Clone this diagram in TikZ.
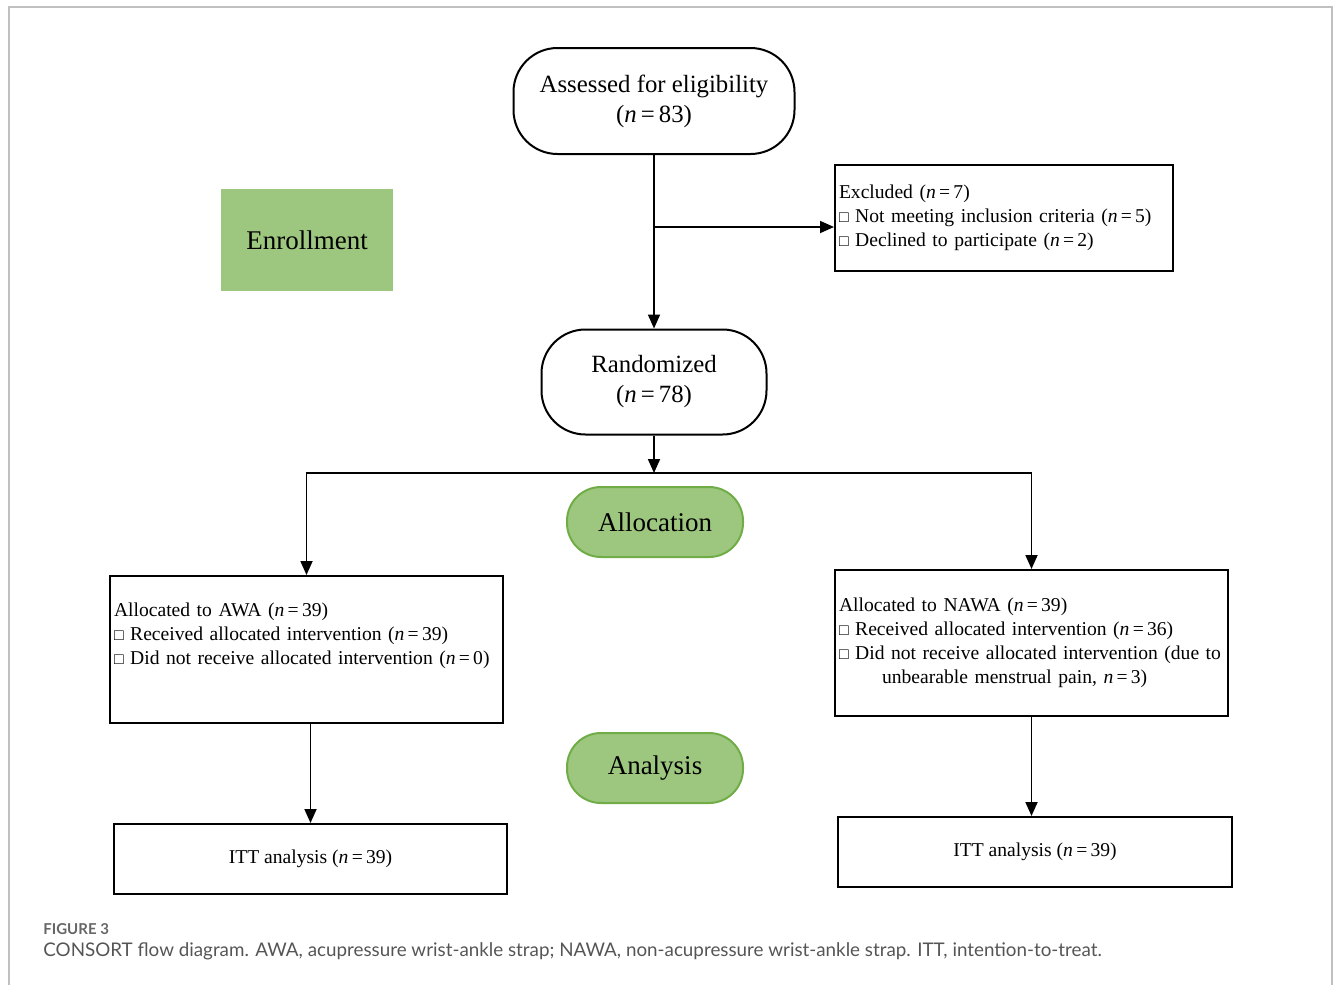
\documentclass[tikz,border=0pt]{standalone}
\usepackage{fontspec}
\setmainfont{Liberation Serif}
\newfontfamily\capfont{Lato}
\usetikzlibrary{arrows.meta}
\definecolor{phasefill}{RGB}{157,199,127}
\definecolor{phasedraw}{RGB}{112,173,71}
\definecolor{framegray}{RGB}{192,192,192}
\definecolor{captext}{RGB}{85,85,85}
\newcommand{\nis}[1]{(\textit{n}\,=\,#1)}
\newcommand{\tick}{{\footnotesize □}}
\begin{document}
\begin{tikzpicture}[
        x=0.5pt, y=-0.5pt, >={Triangle[length=7pt,width=6pt]},
        flow/.style={draw, line width=1pt, rounded corners=22pt, align=center, font=\fontsize{12.4}{15}\selectfont},
        info/.style={draw, line width=1pt, align=left, inner xsep=2pt, font=\fontsize{9.8}{12}\selectfont},
        phase/.style={fill=phasefill, align=center, font=\fontsize{13.5}{16}\selectfont},
        arr/.style={->, line width=0.9pt}
    ]
        \useasboundingbox (0,0) rectangle (1333,985);
        \draw[framegray, line width=1pt] (9,985) -- (9,7) -- (1332,7) -- (1332,985);
        \node[flow, minimum width=140.5pt, minimum height=53pt] (assess) at (654,101) {Assessed for eligibility\\\nis{83}};
        \node[phase, minimum width=86pt, minimum height=51pt] (enrol) at (307,240) {Enrollment};
        \node[info, minimum width=169pt, minimum height=53pt, text width=165pt] (excl) at (1004,218) {Excluded \nis{7}\\
            \tick{} Not meeting inclusion criteria \nis{5}\\
            \tick{} Declined to participate \nis{2}};
        \coordinate (split) at (654,227);
        \node[flow, minimum width=112.5pt, minimum height=52.5pt] (rand) at (654,382) {Randomized\\\nis{78}};
        \coordinate (fork) at (654,473);
        \node[phase, draw=phasedraw, line width=1pt, rounded corners=17pt, minimum width=88pt, minimum height=35pt] (alloc) at (655,522) {Allocation};
        \node[info, minimum width=196.5pt, minimum height=73.5pt, text width=192.5pt] (awa) at (306.5,649.5) {Allocated to AWA \nis{39}\\
            \tick{} Received allocated intervention \nis{39}\\
            \tick{} Did not receive allocated intervention \nis{0}\\[4pt]\mbox{}};
        \node[info, minimum width=196.5pt, minimum height=73pt, text width=192.5pt] (nawa) at (1031.5,643) {Allocated to NAWA \nis{39}\\
            \tick{} Received allocated intervention \nis{36}\\
            \tick{} Did not receive allocated intervention (due to\\
            \hspace*{21.5pt}unbearable menstrual pain, \textit{n}\,=\,3)};
        \node[phase, draw=phasedraw, line width=1pt, rounded corners=17pt, minimum width=88pt, minimum height=35pt] (anal) at (655,768) {Analysis};
        \node[info, align=center, minimum width=196.5pt, minimum height=35pt] (ittA) at (310.5,859) {ITT analysis \nis{39}};
        \node[info, align=center, minimum width=197pt, minimum height=35pt] (ittN) at (1035,852) {ITT analysis \nis{39}};
        \draw[arr] (assess) -- (rand);
        \draw[arr] (split) -- (split -| excl.west);
        \draw[arr] (rand) -- (fork);
        \draw[arr] (fork) -| (awa);
        \draw[arr] (fork) -| (nawa);
        \draw[arr] (ittA.north |- awa.south) -- (ittA);
        \draw[arr] (nawa) -- (nawa |- ittN.north);
        % caption
        \node[anchor=west, inner sep=0pt, text=captext!90, font=\capfont\bfseries\fontsize{7.5}{9}\selectfont] (figlab) at (43,929) {FIGURE 3};
        \node[anchor=west, inner sep=0pt, text=captext, font=\capfont\fontsize{9.4}{11}\selectfont] (figcap) at (43,951) {CONSORT flow diagram. AWA, acupressure wrist-ankle strap; NAWA, non-acupressure wrist-ankle strap. ITT, intention-to-treat.};
    \end{tikzpicture}
\end{document}
